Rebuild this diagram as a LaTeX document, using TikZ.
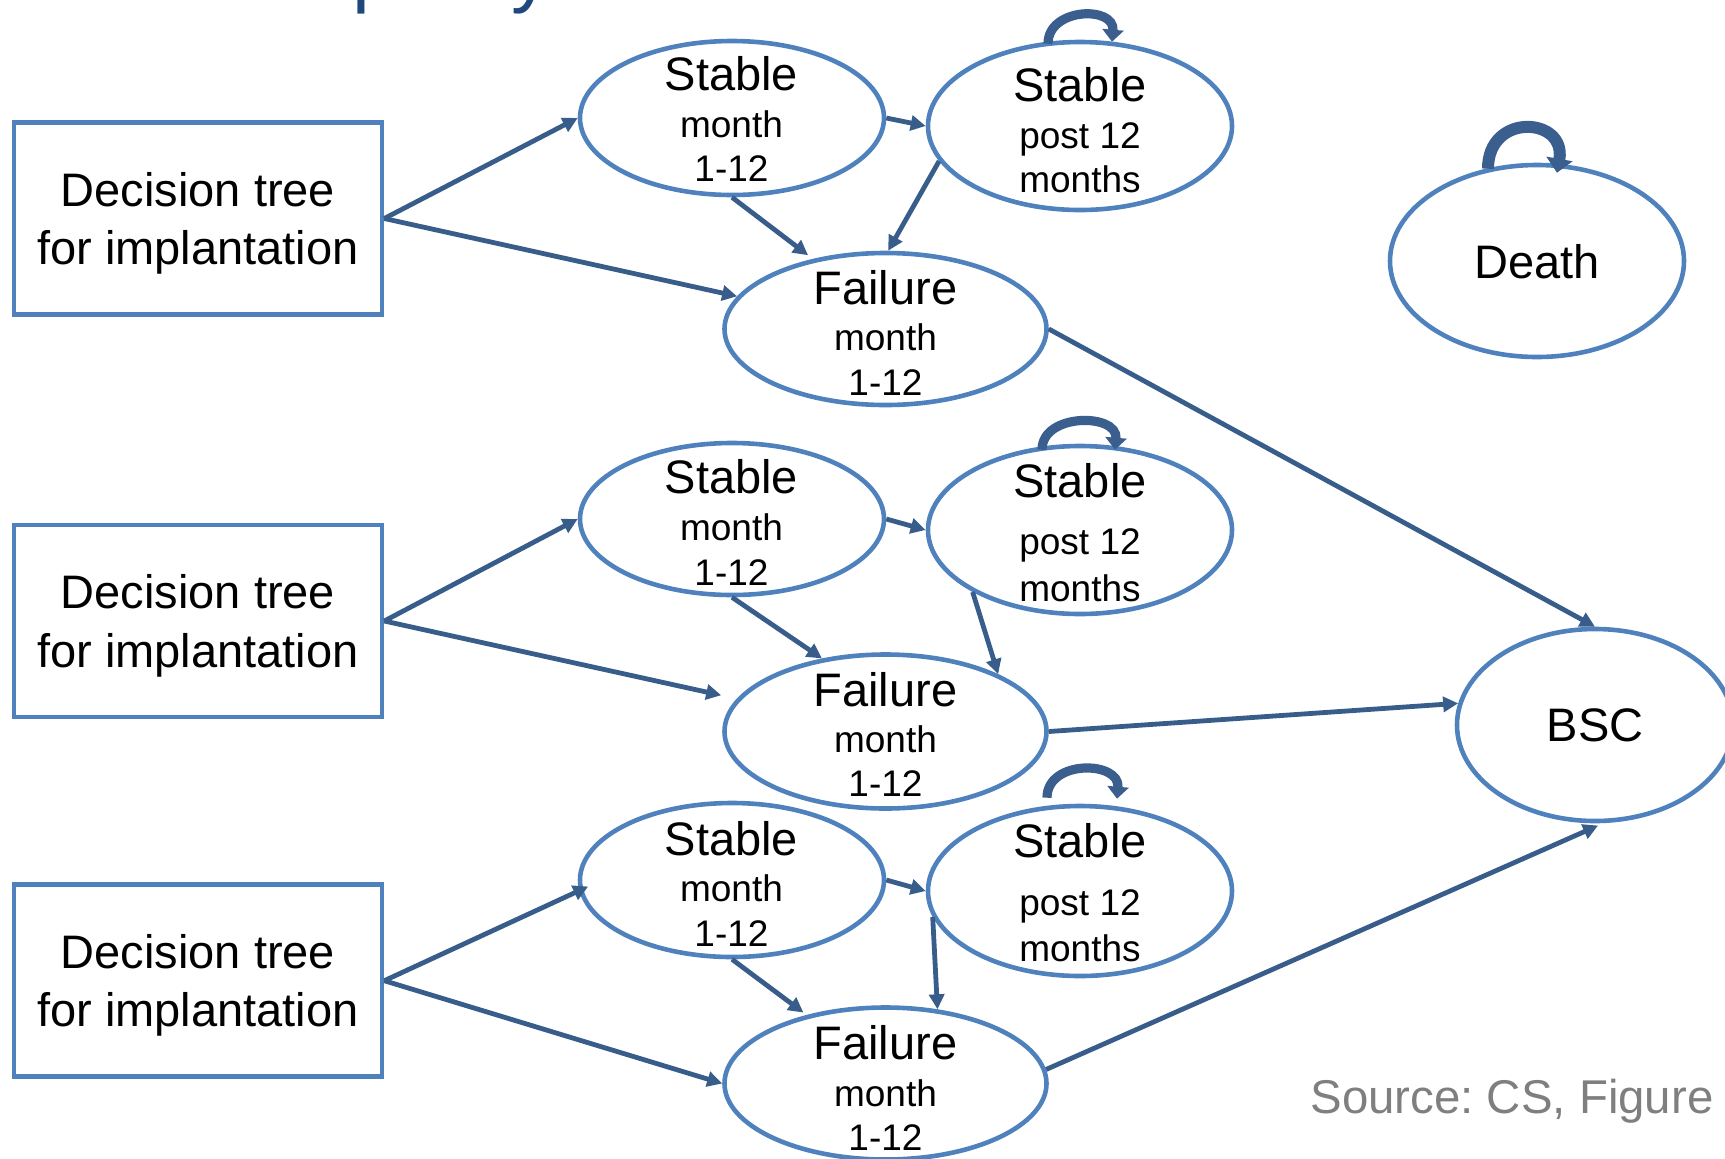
\documentclass[tikz,border=0pt]{standalone}
\usepackage{fontspec}
\setmainfont{Liberation Sans}
\usetikzlibrary{arrows.meta,calc,shapes.geometric}
\definecolor{ellblue}{HTML}{4F81BD}
\definecolor{arrblue}{HTML}{385D8A}
\definecolor{loopdark}{HTML}{3A5E8E}
\definecolor{titleblue}{HTML}{1F497D}
\definecolor{srcgray}{HTML}{7F7F7F}
\frenchspacing
\tikzset{
  ell/.style={draw=ellblue, line width=2.3pt, ellipse, inner sep=0pt},
  dtbox/.style={draw=ellblue, line width=2.3pt, rectangle, inner sep=0pt, minimum width=184pt, minimum height=96pt,
     align=center, text depth=0pt, font=\fontsize{23.5}{29.15}\selectfont},
  big/.style={font=\fontsize{23.5}{28}\selectfont, anchor=base, inner sep=0pt},
  small/.style={font=\fontsize{18.5}{22}\selectfont, anchor=base, inner sep=0pt},
  arr/.style={draw=arrblue, line width=2.4pt, -{Triangle[length=7.5pt,width=7.5pt]}},
  selfloop/.style={draw=loopdark, line width=4.6pt, -{Triangle[length=6pt,width=10.5pt]}},
}
\begin{document}
\begin{tikzpicture}[x=0.5pt,y=-0.5pt]
\useasboundingbox (0,0) rectangle (1725,1158);
% cropped title fragments
\begin{scope}
\clip (0,0) rectangle (1725,1158);
\node[anchor=base west, inner sep=0pt, text=titleblue, font=\fontsize{40}{48}\selectfont] (tp) at (352,-3) {p};
\node[anchor=base west, inner sep=0pt, text=titleblue, font=\fontsize{40}{48}\selectfont] (ty) at (511,-3) {y};
\end{scope}

% decision tree boxes
\node[dtbox] (b1) at (198,218.5) {Decision tree\\for implantation};
\node[dtbox] (b2) at (198,621) {Decision tree\\for implantation};
\node[dtbox] (b3) at (198,980.7) {Decision tree\\for implantation};

% ellipses
\node[ell, minimum width=152pt, minimum height=77pt] (s1) at (732,118) {};
\node[ell, minimum width=152pt, minimum height=84pt] (sp1) at (1080,126) {};
\node[ell, minimum width=161pt, minimum height=76pt] (f1) at (885.5,329) {};
\node[ell, minimum width=147pt, minimum height=96pt] (death) at (1537,261) {};
\node[ell, minimum width=152pt, minimum height=76pt] (s2) at (732,519) {};
\node[ell, minimum width=152pt, minimum height=84pt] (sp2) at (1080,530) {};
\node[ell, minimum width=161pt, minimum height=77pt] (f2) at (885.5,731.5) {};
\node[ell, minimum width=138pt, minimum height=96pt] (bsc) at (1595,725) {};
\node[ell, minimum width=152pt, minimum height=77pt] (s3) at (732,880) {};
\node[ell, minimum width=152pt, minimum height=85pt] (sp3) at (1080,891) {};
\node[ell, minimum width=161pt, minimum height=76pt] (f3) at (885.5,1083.5) {};

% texts row 1
\node[big] (s1a) at (731.5,90.7) {Stable};
\node[small] (s1b) at (731.5,137.6) {month};
\node[small] (s1c) at (731.5,181.6) {1-12};
\node[big] (sp1a) at (1080,101.7) {Stable};
\node[small] (sp1b) at (1080,148.6) {post 12};
\node[small] (sp1c) at (1080,192.6) {months};
\node[big] (f1a) at (885.5,304) {Failure};
\node[small] (f1b) at (885.5,350) {month};
\node[small] (f1c) at (885.5,395) {1-12};
\node[big] (deatht) at (1537,278.8) {Death};
% row 2
\node[big] (s2a) at (731.5,493.3) {Stable};
\node[small] (s2b) at (731.5,540.2) {month};
\node[small] (s2c) at (731.5,585.3) {1-12};
\node[big] (sp2a) at (1080,497.7) {Stable};
\node[small] (sp2b) at (1080,554.5) {post 12};
\node[small] (sp2c) at (1080,601.8) {months};
\node[big] (f2a) at (885.5,706.7) {Failure};
\node[small] (f2b) at (885.5,752.5) {month};
\node[small] (f2c) at (885.5,796.5) {1-12};
\node[big] (bsct) at (1595,741.9) {BSC};
% row 3
\node[big] (s3a) at (731.5,855.2) {Stable};
\node[small] (s3b) at (731.5,901) {month};
\node[small] (s3c) at (731.5,946) {1-12};
\node[big] (sp3a) at (1080,857.4) {Stable};
\node[small] (sp3b) at (1080,915.3) {post 12};
\node[small] (sp3c) at (1080,961.5) {months};
\node[big] (f3a) at (885.5,1059.8) {Failure};
\node[small] (f3b) at (885.5,1106.7) {month};
\node[small] (f3c) at (885.5,1150.7) {1-12};

% source
\node[anchor=base west, inner sep=0pt, text=srcgray, font=\fontsize{23.7}{28}\selectfont] (src) at (1310,1113) {Source: CS, Figure};

% connectors row 1
\draw[arr] (b1.east) -- (s1.west);
\draw[arr] (b1.east) -- (f1);
\draw[arr] (s1.east) -- (sp1.west);
\draw[arr, shorten >=3pt] (s1.south) -- (f1.136);
\draw[arr] (sp1.194) -- (f1.88);
\draw[arr] (f1.east) -- (bsc.north);
% row 2
\draw[arr] (b2.east) -- (s2.west);
\draw[arr, shorten >=8pt] (b2.east) -- (f2);
\draw[arr] (s2.east) -- (sp2.west);
\draw[arr] (s2.south) -- (f2.131);
\draw[arr] (sp2.210) -- (f2.27);
\draw[arr] (f2.east) -- (bsc.171);
% row 3
\draw[arr, shorten >=-5pt] (b3.east) -- (s3.184);
\draw[arr] (b3.east) -- (f3.west);
\draw[arr] (s3.east) -- (sp3.west);
\draw[arr, shorten >=2pt] (s3.south) -- (f3.139);
\draw[arr] (sp3.190) -- (f3.55);
\draw[arr, shorten >=3pt] (f3.5) -- (bsc.-85);

% self loops
\draw[selfloop] ($(sp1.north)+(-32,4)$) to[out=90,in=85,looseness=1.45] ($(sp1.north)+(32,2)$);
\draw[selfloop] ($(sp2.north)+(-38,6)$) to[out=90,in=85,looseness=1.3] ($(sp2.north)+(35,6)$);
\draw[selfloop] ($(sp3.north)+(-33,-6)$) to[out=90,in=85,looseness=1.4] ($(sp3.north)+(37,-5)$);
\draw[selfloop, line width=6pt, -{Triangle[length=7pt,width=13pt]}] ($(death.north)+(-49,6)$) to[out=90,in=80,looseness=2.1] ($(death.north)+(20,10)$);
\end{tikzpicture}
\end{document}
